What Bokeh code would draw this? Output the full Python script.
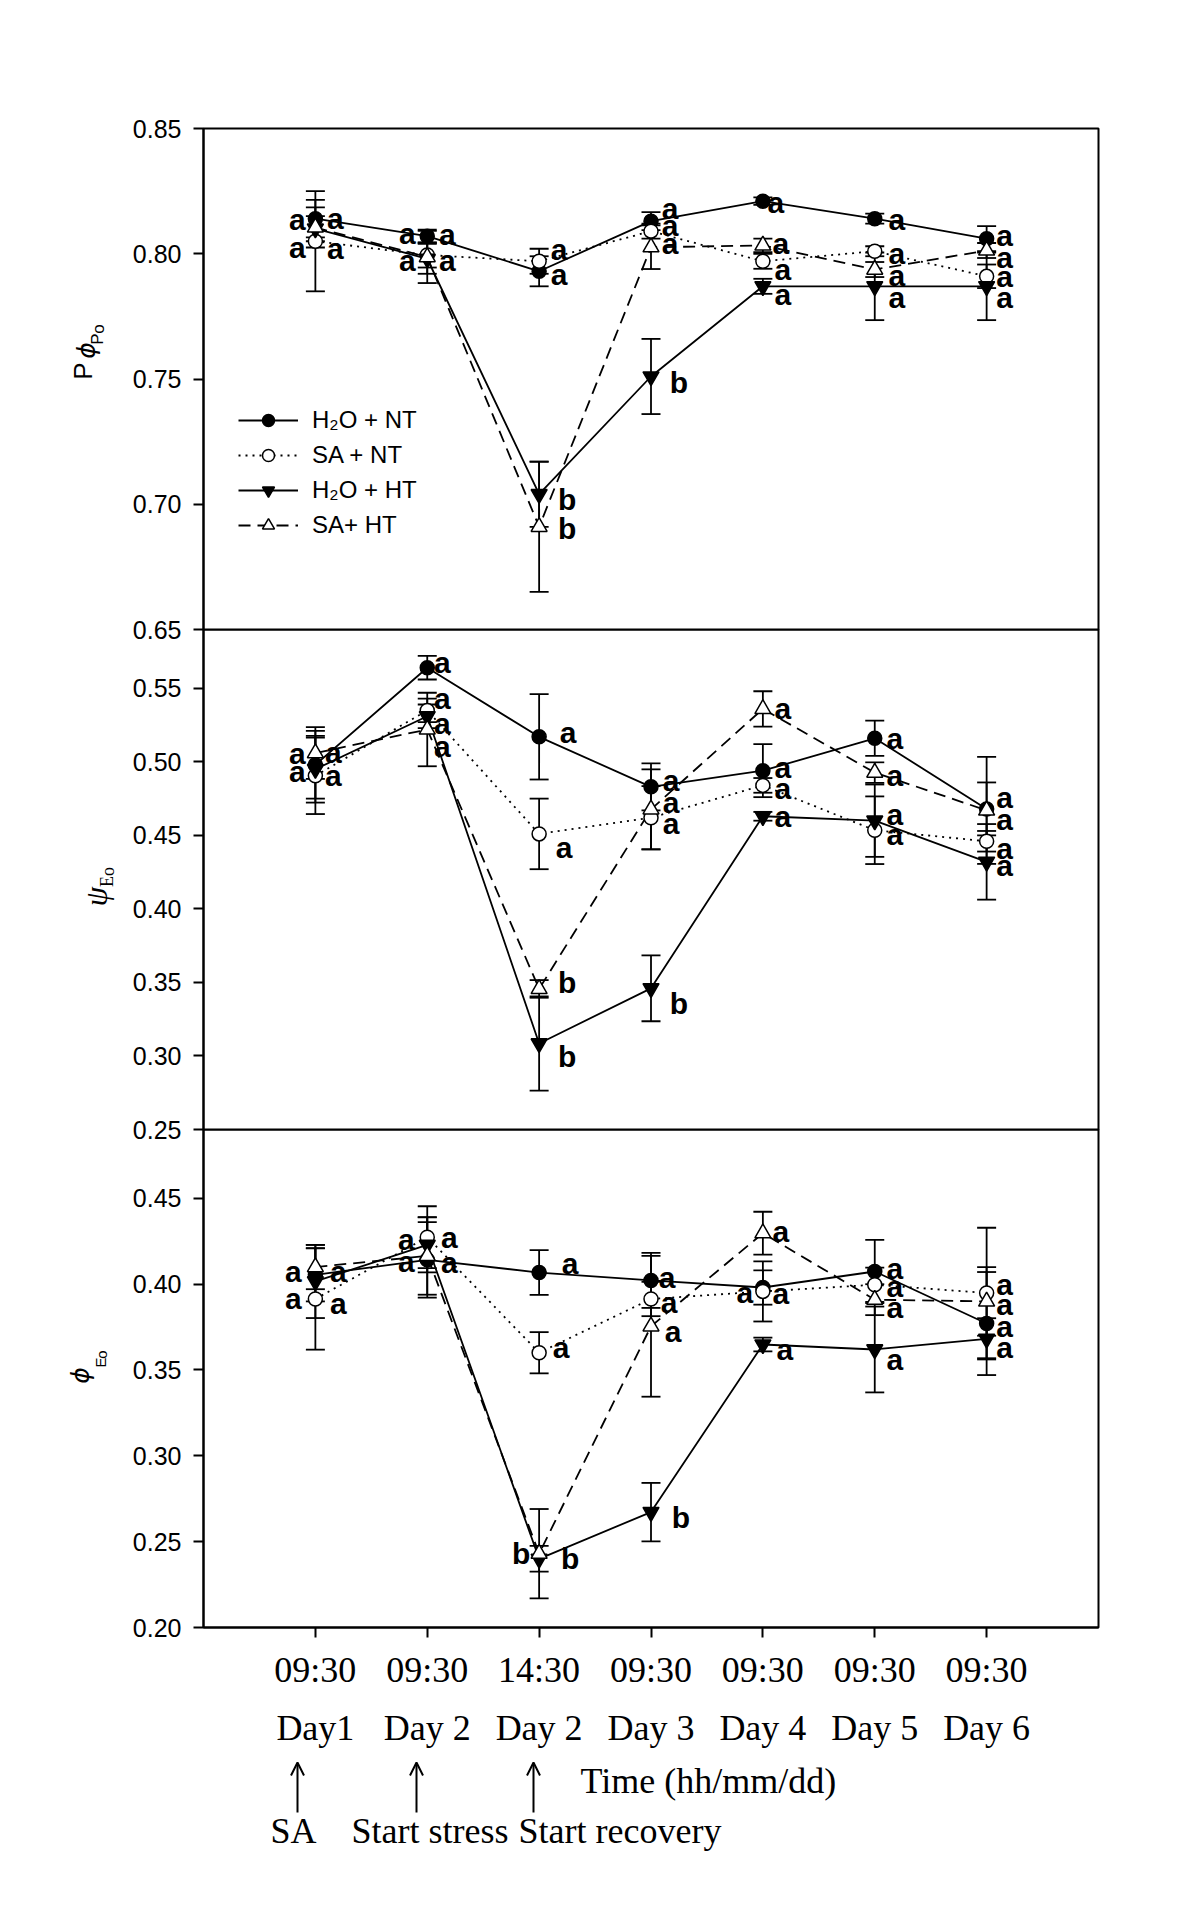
import math
from bokeh.plotting import figure
from bokeh.models import (ColumnDataSource, Range1d, FixedTicker, PrintfTickFormatter,
                          Whisker, TeeHead, Label, Legend, LegendItem, Arrow, OpenHead)
from bokeh.layouts import column, row
from bokeh.embed import file_html
from bokeh.resources import INLINE
from bokeh.core.properties import value

# ---------------- data ----------------
times = ["09:30", "09:30", "14:30", "09:30", "09:30", "09:30", "09:30"]
days = ["Day1", "Day 2", "Day 2", "Day 3", "Day 4", "Day 5", "Day 6"]
x_pos = [1, 2, 3, 4, 5, 6, 7]
series_names = ["H\u2082O + NT", "SA + NT", "H\u2082O + HT", "SA+ HT"]
events = ["SA", "Start stress", "Start recovery"]

# Panel 1: P phi_Po
po_h2o_nt = [0.814, 0.807, 0.793, 0.813, 0.821, 0.814, 0.806]
po_h2o_nt_se = [0.0075, 0.0026, 0.006, 0.0036, 0.0015, 0.002, 0.005]
po_sa_nt = [0.805, 0.7995, 0.797, 0.809, 0.797, 0.801, 0.791]
po_sa_nt_se = [0.020, 0.005, 0.005, 0.003, 0.003, 0.002, 0.0047]
po_h2o_ht = [0.810, 0.798, 0.704, 0.751, 0.787, 0.787, 0.787]
po_h2o_ht_se = [0.005, 0.006, 0.013, 0.015, 0.003, 0.0135, 0.0135]
po_sa_ht = [0.8105, 0.7987, 0.691, 0.8026, 0.8033, 0.7937, 0.8013]
po_sa_ht_se = [0.008, 0.0104, 0.026, 0.0087, 0.0027, 0.003, 0.003]

# Panel 2: psi_Eo
psi_h2o_nt = [0.498, 0.564, 0.517, 0.483, 0.494, 0.516, 0.468]
psi_h2o_nt_se = [0.023, 0.008, 0.029, 0.016, 0.018, 0.012, 0.018]
psi_sa_nt = [0.4905, 0.535, 0.451, 0.462, 0.484, 0.4535, 0.446]
psi_sa_nt_se = [0.026, 0.008, 0.024, 0.0215, 0.005, 0.023, 0.007]
psi_h2o_ht = [0.495, 0.531, 0.3085, 0.346, 0.463, 0.460, 0.432]
psi_h2o_ht_se = [0.0227, 0.008, 0.032, 0.0224, 0.003, 0.0246, 0.0257]
psi_sa_ht = [0.506, 0.522, 0.3456, 0.4677, 0.536, 0.4927, 0.467]
psi_sa_ht_se = [0.0176, 0.025, 0.006, 0.0272, 0.012, 0.007, 0.0364]

# Panel 3: phi_Eo
phi_h2o_nt = [0.4054, 0.4141, 0.4067, 0.4021, 0.398, 0.4073, 0.377]
phi_h2o_nt_se = [0.0155, 0.022, 0.013, 0.016, 0.010, 0.0184, 0.030]
phi_sa_nt = [0.3913, 0.4273, 0.360, 0.3913, 0.3957, 0.3996, 0.3948]
phi_sa_nt_se = [0.0295, 0.018, 0.012, 0.010, 0.0175, 0.010, 0.038]
phi_h2o_ht = [0.4015, 0.4228, 0.240, 0.2672, 0.3648, 0.3619, 0.3681]
phi_h2o_ht_se = [0.0213, 0.016, 0.0075, 0.017, 0.004, 0.025, 0.012]
phi_sa_ht = [0.4099, 0.4164, 0.243, 0.3754, 0.4296, 0.3909, 0.3899]
phi_sa_ht_se = [0.0129, 0.0226, 0.026, 0.041, 0.0125, 0.009, 0.020]

# significance letters (per series, per time point)
sig_po = [["a"] * 7, ["a"] * 7,
          ["a", "a", "b", "b", "a", "a", "a"],
          ["a", "a", "b", "a", "a", "a", "a"]]
sig_psi = [["a"] * 7, ["a"] * 7,
           ["a", "a", "b", "b", "a", "a", "a"],
           ["a", "a", "b", "a", "a", "a", "a"]]
sig_phi = [["a"] * 7, ["a"] * 7,
           ["a", "a", "b", "b", "a", "a", "a"],
           ["a", "a", "b", "a", "a", "a", "a"]]

# ---------------- layout / style ----------------
# letter placement offsets in pixels (dx, dy) per series, per point
off_po = [
    [(20, 0), (20, -2), (20, 3), (19, -13), (13, 1), (22, 1), (18, -3)],
    [(-18, 6), (-20, 5), (20, -12), (19, -6), (20, 8), (22, 2), (18, 0)],
    [(20, 20), (-20, -25), (28, 5), (28, 6), (20, 8), (22, 11), (18, 11)],
    [(-18, -8), (20, 3), (28, 2), (19, -4), (18, -2), (22, 6), (18, 7)],
]
off_psi = [
    [(18, -12), (15, -5), (29, -4), (20, -6), (20, -3), (20, 0), (18, 11)],
    [(18, 0), (15, -12), (25, 14), (20, 6), (20, 3), (20, 4), (18, 7)],
    [(-18, 2), (15, 7), (28, 13), (28, 15), (20, 0), (20, -6), (18, 4)],
    [(-18, 0), (15, 17), (28, -6), (20, -7), (20, 0), (20, 3), (18, -13)],
]
off_phi = [
    [(23, -3), (22, 3), (31, -9), (16, -3), (-18, 5), (20, -3), (18, 3)],
    [(-22, 0), (22, 0), (22, -5), (18, 4), (18, 2), (20, 2), (18, -8)],
    [(23, 22), (-21, -5), (31, 0), (30, 5), (22, 5), (20, 10), (18, 9)],
    [(-22, 4), (-21, 6), (-18, 0), (22, 5), (18, -2), (20, 8), (18, 3)],
]

STY = [
    dict(marker="circle", fill="black", dash="solid", size=14),
    dict(marker="circle", fill="white", dash="2 5", size=14),
    dict(marker="inverted_triangle", fill="black", dash="solid", size=16),
    dict(marker="triangle", fill="white", dash="12 7", size=16),
]

LEFTW = 120
W = 1072
LB, RB = 83, 94
FRAME_L = LEFTW + LB
XR = Range1d(0, 8)
PXX = (W - LB - RB) / 8.0
OVER = 14
LW = 1.8
TOTAL_H = 1880


def xd(px):
    return (px - FRAME_L) / PXX


def make_panel(height, top, bottom, yr, ticks, show_x=False):
    p = figure(width=W, height=height, x_range=XR, y_range=Range1d(*yr),
               output_backend="svg", toolbar_location=None,
               min_border_left=LB, min_border_right=RB,
               min_border_top=top, min_border_bottom=bottom,
               x_axis_location="below" if show_x else None,
               background_fill_alpha=0, border_fill_alpha=0)
    p.grid.visible = False
    p.outline_line_color = "black"
    p.outline_line_width = 2
    ya = p.yaxis[0]
    ya.ticker = FixedTicker(ticks=ticks)
    ya.formatter = PrintfTickFormatter(format="%.2f")
    ya.axis_line_width = 2
    ya.major_tick_line_width = 2
    ya.major_tick_out = 10
    ya.major_tick_in = 0
    ya.minor_tick_out = 0
    ya.minor_tick_in = 0
    ya.major_label_text_font = "Liberation Sans"
    ya.major_label_text_font_size = "25px"
    ya.major_label_text_color = "black"
    ya.major_label_standoff = 12
    return p


def draw_panel(p, vals, errs, sigs, offs):
    srcs, lines, marks = [], [], []
    for k in range(4):
        v, e = vals[k], errs[k]
        src = ColumnDataSource(dict(x=x_pos, y=v,
                                    lo=[a - b for a, b in zip(v, e)],
                                    hi=[a + b for a, b in zip(v, e)]))
        srcs.append(src)
        p.add_layout(Whisker(source=src, base="x", lower="lo", upper="hi", dimension="height",
                             line_color="black", line_width=LW, level="underlay",
                             upper_head=TeeHead(size=19, line_width=LW, line_color="black"),
                             lower_head=TeeHead(size=19, line_width=LW, line_color="black")))
    for k in range(4):
        lines.append(p.line("x", "y", source=srcs[k], line_color="black", line_width=LW,
                            line_dash=STY[k]["dash"]))
    for k in range(4):
        st = STY[k]
        marks.append(p.scatter("x", "y", source=srcs[k], marker=st["marker"], size=st["size"],
                               fill_color=st["fill"], line_color="black", line_width=1.5))
    tx, ty, tt, tdx, tdy = [], [], [], [], []
    for k in range(4):
        for i in range(7):
            tx.append(x_pos[i])
            ty.append(vals[k][i])
            tt.append(sigs[k][i])
            tdx.append(offs[k][i][0])
            tdy.append(offs[k][i][1])
    tsrc = ColumnDataSource(dict(x=tx, y=ty, t=tt, dx=tdx, dy=tdy))
    p.text("x", "y", text="t", x_offset="dx", y_offset="dy", source=tsrc,
           text_font=value("Liberation Sans"), text_font_style="bold",
           text_font_size="30px", text_align="center", text_baseline="middle",
           text_color="black")
    return lines, marks


# ---------------- panel 1 ----------------
p1 = make_panel(128 + 501 + OVER, 128, OVER, (0.65, 0.85), [0.65, 0.70, 0.75, 0.80, 0.85])
l1, m1 = draw_panel(p1, [po_h2o_nt, po_sa_nt, po_h2o_ht, po_sa_ht],
                    [po_h2o_nt_se, po_sa_nt_se, po_h2o_ht_se, po_sa_ht_se], sig_po, off_po)
items = [LegendItem(label=series_names[k], renderers=[l1[k], m1[k]]) for k in range(4)]
p1.add_layout(Legend(items=items, location=(35, 89), glyph_width=60, glyph_height=30,
                     label_height=30, spacing=5, padding=0, margin=0,
                     border_line_alpha=0, background_fill_alpha=0,
                     label_text_font="Liberation Sans", label_text_font_size="24px",
                     label_text_color="black", label_standoff=14))

# ---------------- panel 2 ----------------
p2 = make_panel(500 + OVER, 0, OVER, (0.25, 0.59), [0.25, 0.30, 0.35, 0.40, 0.45, 0.50, 0.55])
p2.margin = (-OVER, 0, 0, 0)
draw_panel(p2, [psi_h2o_nt, psi_sa_nt, psi_h2o_ht, psi_sa_ht],
           [psi_h2o_nt_se, psi_sa_nt_se, psi_h2o_ht_se, psi_sa_ht_se], sig_psi, off_psi)

# ---------------- panel 3 ----------------
p3 = make_panel(501 + 120, 0, 120, (0.20, 0.49), [0.20, 0.25, 0.30, 0.35, 0.40, 0.45], show_x=True)
p3.margin = (-OVER, 0, 0, 0)
draw_panel(p3, [phi_h2o_nt, phi_sa_nt, phi_h2o_ht, phi_sa_ht],
           [phi_h2o_nt_se, phi_sa_nt_se, phi_h2o_ht_se, phi_sa_ht_se], sig_phi, off_phi)
xa = p3.xaxis[0]
xa.ticker = FixedTicker(ticks=x_pos)
xa.major_label_overrides = {x_pos[i]: times[i] + "\n" + days[i] for i in range(7)}
xa.axis_line_width = 2
xa.major_tick_line_width = 2
xa.major_tick_out = 10
xa.major_tick_in = 0
xa.minor_tick_out = 0
xa.minor_tick_in = 0
xa.major_label_text_font = "Liberation Serif"
xa.major_label_text_font_size = "36px"
xa.major_label_text_line_height = 1.45
xa.major_label_text_color = "black"
xa.major_label_standoff = 12

# ---------------- annotation strip (arrows / events / time caption) ----------------
p4 = figure(width=W, height=130, x_range=XR, y_range=Range1d(0, 130),
            output_backend="svg", toolbar_location=None,
            min_border_left=LB, min_border_right=RB, min_border_top=0, min_border_bottom=0,
            x_axis_location=None, y_axis_location=None,
            background_fill_alpha=0, border_fill_alpha=0)
p4.grid.visible = False
p4.outline_line_color = None
event_px = [297, 416, 533]
event_text_px = [270, 351, 518]
for k in range(3):
    p4.add_layout(Arrow(x_start=xd(event_px[k]), y_start=130 - 62, x_end=xd(event_px[k]),
                        y_end=130 - 12, line_width=2, line_color="black",
                        end=OpenHead(size=13, line_width=2, line_color="black")))
    p4.add_layout(Label(x=xd(event_text_px[k]), y=130 - 80, text=events[k],
                        text_font="Liberation Serif", text_font_size="36px",
                        text_color="black", text_align="left", text_baseline="middle"))
p4.add_layout(Label(x=xd(580), y=130 - 30, text="Time (hh/mm/dd)",
                    text_font="Liberation Serif", text_font_size="36px",
                    text_color="black", text_align="left", text_baseline="middle"))

# ---------------- y-label strip ----------------
pl = figure(width=LEFTW, height=TOTAL_H, x_range=Range1d(0, LEFTW), y_range=Range1d(0, TOTAL_H),
            output_backend="svg", toolbar_location=None,
            min_border_left=0, min_border_right=0, min_border_top=0, min_border_bottom=0,
            x_axis_location=None, y_axis_location=None,
            background_fill_alpha=0, border_fill_alpha=0)
pl.grid.visible = False
pl.outline_line_color = None
ROT = math.pi / 2


def ly(py):
    return TOTAL_H - py


def glyphs(xs, ys, ts, font, size, style="normal"):
    pl.text(x=xs, y=[ly(v) for v in ys], text=ts, angle=ROT, text_font=value(font),
            text_font_style=style, text_font_size=size, text_color="black",
            text_align="center", text_baseline="middle")


glyphs([82.5], [370.5], ["P"], "Liberation Sans", "26px")
glyphs([86, 80], [350, 1375], ["\u03d5", "\u03d5"], "DejaVu Sans", "25px", "italic")
glyphs([96.5, 97.5], [338.5, 328.5], ["P", "o"], "Liberation Sans", "17px")
glyphs([95.5], [896], ["\u03c8"], "Liberation Serif", "31px", "italic")
glyphs([106, 107], [881, 871], ["E", "o"], "Liberation Serif", "18px")
glyphs([100, 101], [1362, 1354], ["E", "o"], "Liberation Sans", "15px")

layout = row(pl, column(p1, p2, p3, p4, spacing=0), spacing=0)
open("out.html", "w").write(file_html(layout, INLINE))
